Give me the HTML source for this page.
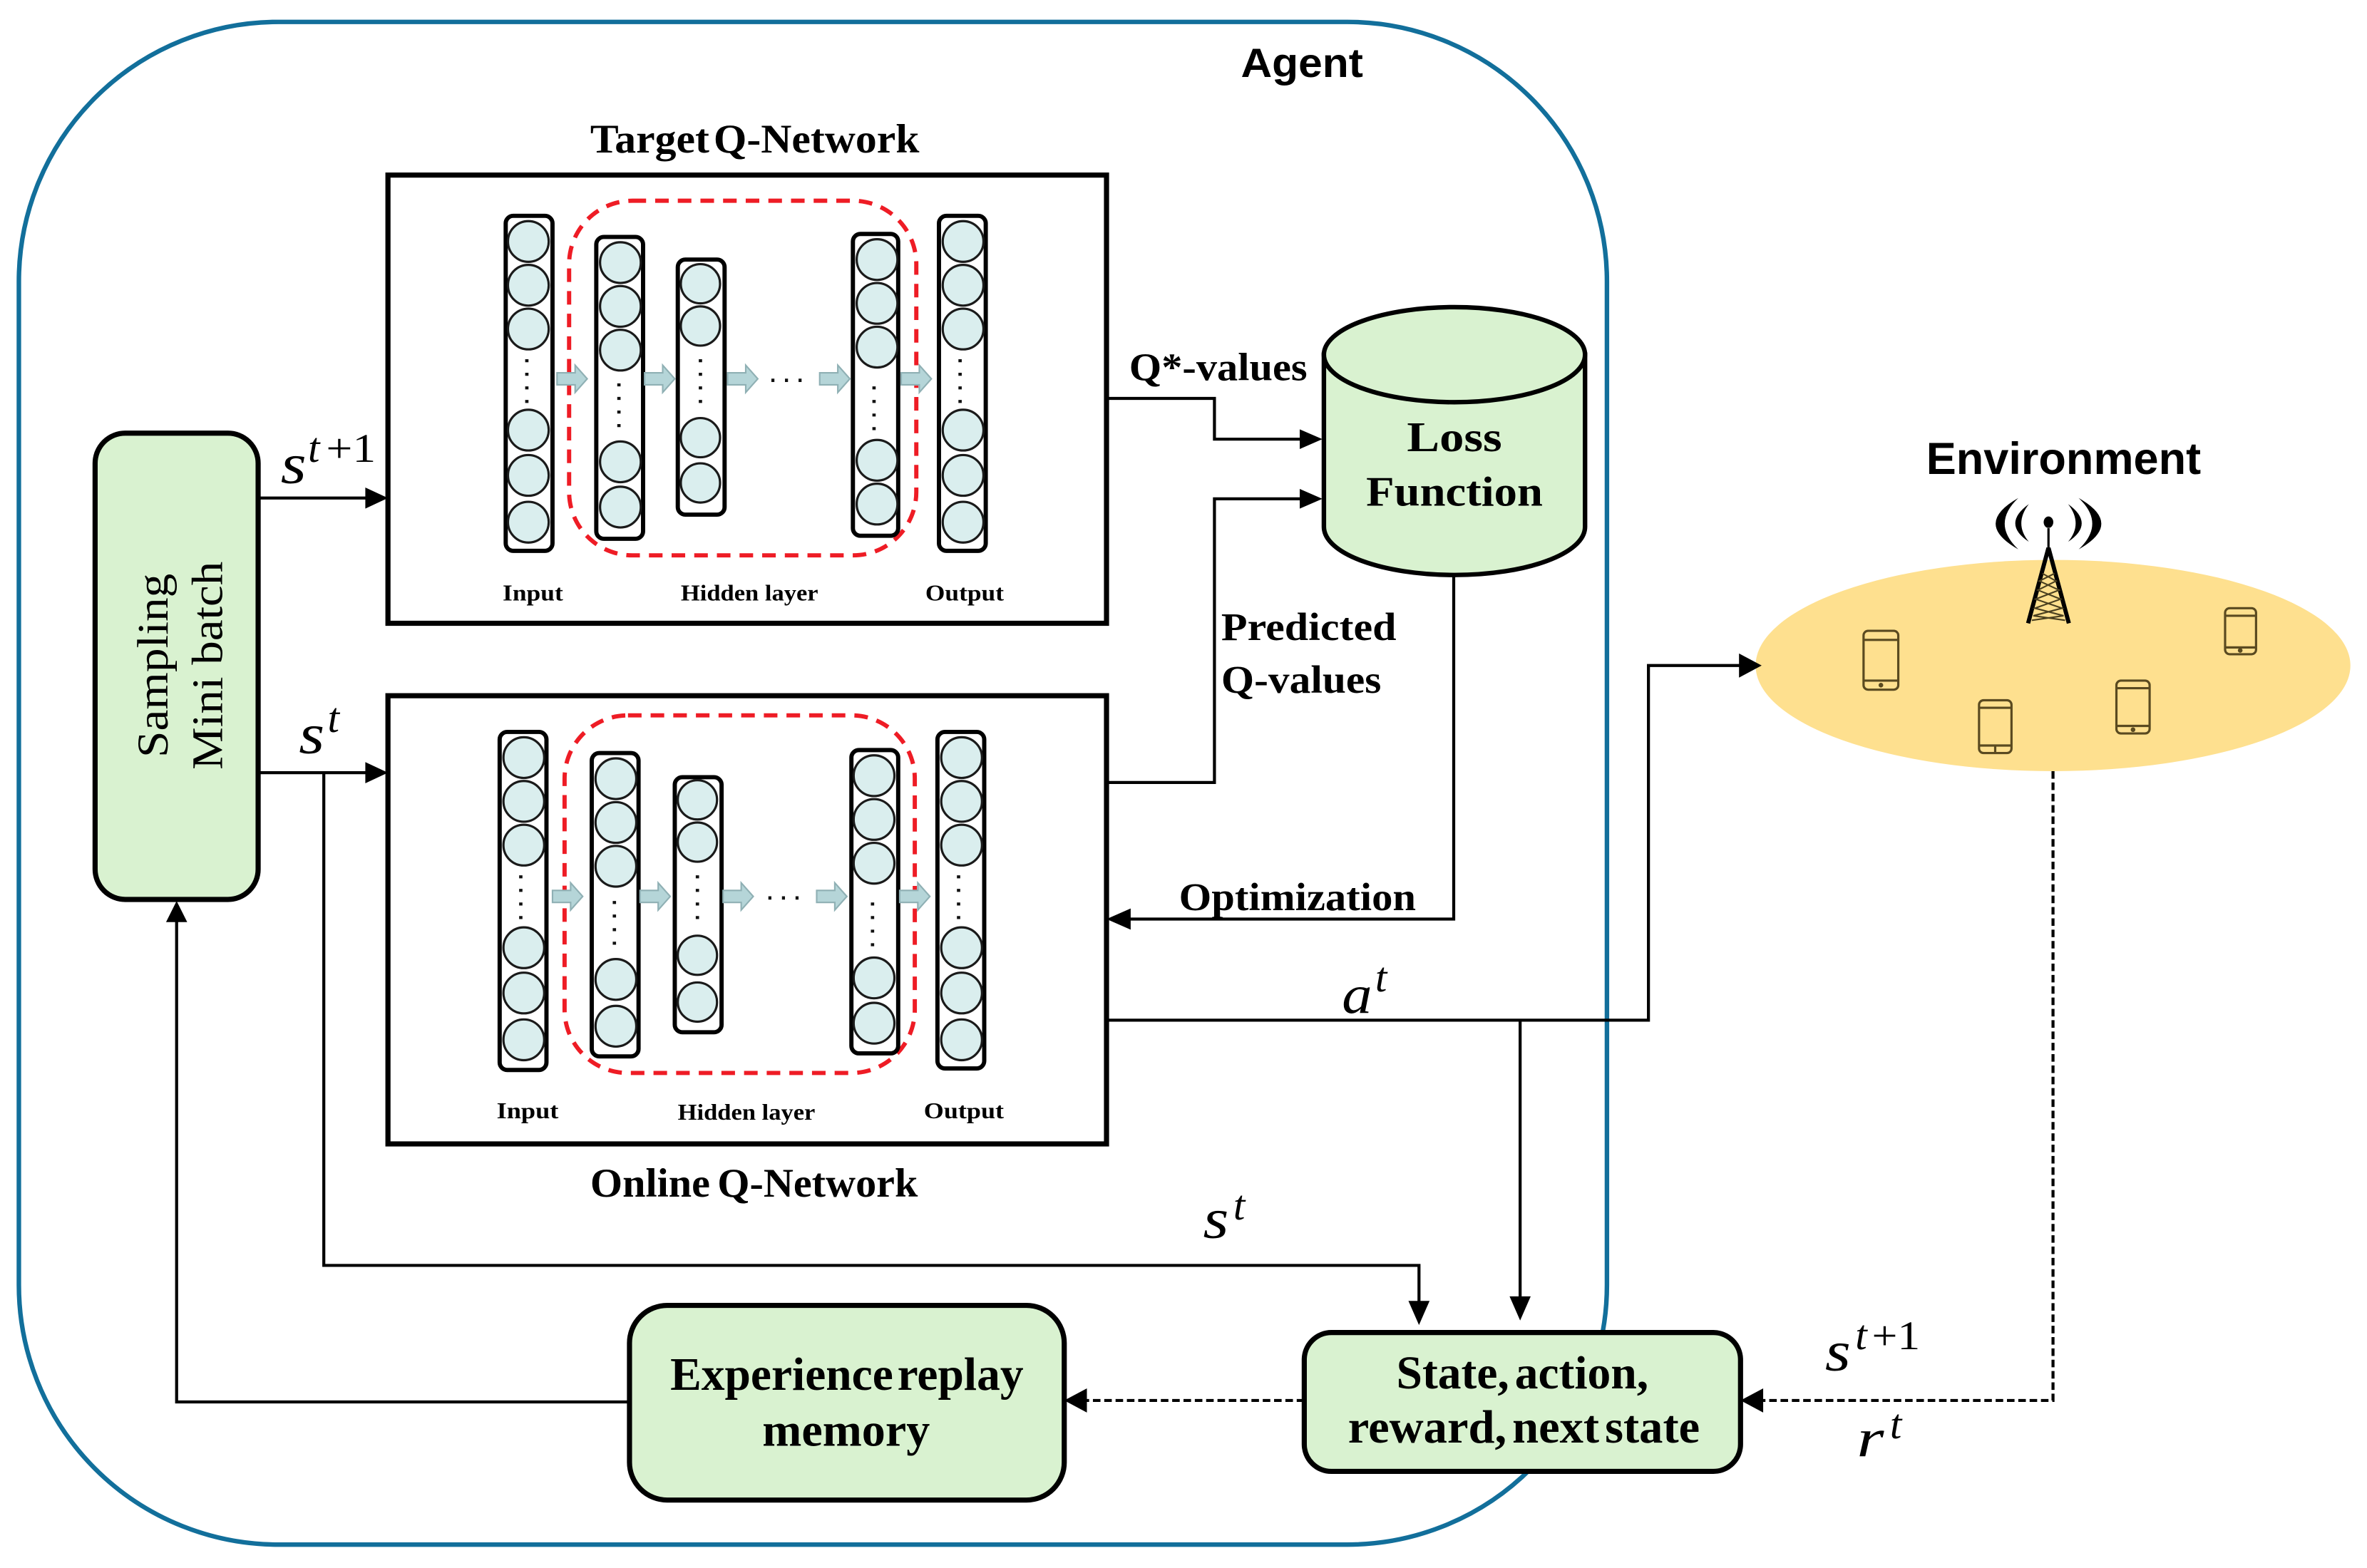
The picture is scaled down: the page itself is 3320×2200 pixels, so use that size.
<!DOCTYPE html>
<html>
<head>
<meta charset="utf-8">
<style>
html,body{margin:0;padding:0;background:#fff;}
svg{display:block;}
.b{font-family:"Liberation Serif",serif;font-weight:bold;fill:#000;}
.s{font-family:"Liberation Sans",sans-serif;font-weight:bold;fill:#000;}
.m{font-family:"Liberation Serif",serif;font-style:italic;fill:#000;}
.r{font-family:"Liberation Serif",serif;fill:#000;}
.bar{fill:#fff;stroke:#000;stroke-width:2.8;}
.c{fill:#daeeee;stroke:#1a1a1a;stroke-width:1.5;}
.d{fill:none;stroke:#111;stroke-width:2.2;stroke-dasharray:2 7;}
.red{fill:none;stroke:#ee1c25;stroke-width:2.8;stroke-dasharray:9 6;}
.ar{fill:#b5d5d8;stroke:#8fb0b4;stroke-width:1;}
.l{fill:none;stroke:#000;stroke-width:2;}
.ph{fill:none;stroke:#5a4a20;stroke-width:1.5;}
</style>
</head>
<body>
<svg width="3320" height="2200" viewBox="0 0 1568 1039" xmlns="http://www.w3.org/2000/svg">
<rect width="1568" height="1039" fill="#fff"/>

<!-- Agent -->
<rect x="12.500" y="14.500" width="1052" height="1009" rx="172" ry="172" fill="#fff" stroke="#126f9b" stroke-width="3"/>
<text class="s" x="822" y="51" font-size="27" textLength="81" lengthAdjust="spacingAndGlyphs">Agent</text>

<!-- Environment -->
<ellipse cx="1360" cy="441" rx="197" ry="70" fill="#fee08f"/>
<text class="s" x="1276" y="314" font-size="30" textLength="182" lengthAdjust="spacingAndGlyphs">Environment</text>

<!-- Tower -->
<g fill="none" stroke="#000">
  <path d="M1357 350 V366" stroke-width="1.500"/>
  <ellipse cx="1357" cy="346" rx="3.200" ry="3.800" fill="#000" stroke="none"/>
  <path d="M1357 363 L1343.500 413 M1357 363 L1370.500 413" stroke-width="2.800"/>
  <path d="M1353 380 L1362 385 L1350 391 L1365 397 L1348 403 L1367 408 L1346 411 M1361 380 L1351 385 L1364 391 L1348.500 397 L1366 403 L1347 408 L1368 411" stroke="#4a4020" stroke-width="1"/>
  <g fill="#000" stroke="none">
    <path d="M1337 330 Q1307 347 1337 364 Q1319 347 1337 330 Z"/>
    <path d="M1344 334 Q1326 347 1344 359 Q1334 347 1344 334 Z"/>
    <path d="M1377 330 Q1407 347 1377 364 Q1395 347 1377 330 Z"/>
    <path d="M1370 334 Q1388 347 1370 359 Q1380 347 1370 334 Z"/>
  </g>
</g>

<!-- Phones -->
<g class="ph">
  <rect x="1234.500" y="418" width="23" height="39" rx="3"/><path d="M1234.500 424 H1257.500 M1234.500 451 H1257.500"/><circle cx="1246" cy="454" r=".8"/>
  <rect x="1311" y="464" width="21.500" height="35" rx="3"/><path d="M1311 469 H1332.500 M1311 494 H1332.500 M1321.700 494 V499"/>
  <rect x="1402" y="451" width="22" height="35" rx="3"/><path d="M1402 456 H1424 M1402 481 H1424"/><circle cx="1413" cy="483.500" r=".8"/>
  <rect x="1474" y="403" width="20.500" height="30.500" rx="3"/><path d="M1474 408 H1494.500 M1474 429 H1494.500"/><circle cx="1484" cy="431" r=".8"/>
</g>

<!-- Connectors -->
<g class="l">
  <path d="M172 330 H245"/>
  <path d="M172 512 H245"/>
  <path d="M214.500 512 V838.500 H940 V866" />
  <path d="M734 264 H804.500 V291 H864"/>
  <path d="M734 518.500 H804.500 V330.500 H864"/>
  <path d="M963 381 V609 H746"/>
  <path d="M734 676 H1092 V441 H1154"/>
  <path d="M1007 676 V862"/>
  <path d="M417 929 H117 V609"/>
  <path d="M1360 511 V928 H1165" stroke-dasharray="5 2.500"/>
  <path d="M864 928 H718" stroke-dasharray="5 2.500"/>
</g>
<g fill="#000">
  <polygon points="257,330 242,323 242,337"/>
  <polygon points="257,512 242,505 242,519"/>
  <polygon points="940,878 933,862 947,862"/>
  <polygon points="876,291 861,284.500 861,297.500"/>
  <polygon points="876,330.500 861,324 861,337"/>
  <polygon points="733,609 749,602 749,616"/>
  <polygon points="1167,441 1152,433 1152,449"/>
  <polygon points="1007,875 1000,859 1014,859"/>
  <polygon points="117,597 110,611 124,611"/>
  <polygon points="1153,928 1168,920 1168,936"/>
  <polygon points="705,928 720,920 720,936"/>
</g>

<!-- Target box -->
<rect x="257" y="116" width="476" height="297" fill="#fff" stroke="#000" stroke-width="3.400"/>
<text class="b" x="391" y="101" font-size="27" word-spacing="-4" textLength="218" lengthAdjust="spacingAndGlyphs">Target Q-Network</text>
<rect class="red" x="377" y="133" width="230" height="235" rx="42"/>

<rect class="bar" x="335" y="143" width="31" height="222" rx="5"/>
<rect class="bar" x="395" y="157" width="31" height="200" rx="5"/>
<rect class="bar" x="449" y="172" width="31" height="169" rx="5"/>
<rect class="bar" x="565" y="155" width="30" height="200" rx="5"/>
<rect class="bar" x="622" y="143" width="31" height="222" rx="5"/>
<g class="c">
  <circle cx="350" cy="160" r="13.500"/><circle cx="350" cy="189" r="13.500"/><circle cx="350" cy="218" r="13.500"/><circle cx="350" cy="285" r="13.500"/><circle cx="350" cy="315" r="13.500"/><circle cx="350" cy="346" r="13.500"/>
  <circle cx="411" cy="174" r="13.500"/><circle cx="411" cy="203" r="13.500"/><circle cx="411" cy="232" r="13.500"/><circle cx="411" cy="306" r="13.500"/><circle cx="411" cy="336" r="13.500"/>
  <circle cx="464" cy="188" r="13"/><circle cx="464" cy="216" r="13"/><circle cx="464" cy="290" r="13"/><circle cx="464" cy="320" r="13"/>
  <circle cx="581" cy="172" r="13.500"/><circle cx="581" cy="201" r="13.500"/><circle cx="581" cy="230" r="13.500"/><circle cx="581" cy="305" r="13.500"/><circle cx="581" cy="334" r="13.500"/>
  <circle cx="638" cy="160" r="13.500"/><circle cx="638" cy="189" r="13.500"/><circle cx="638" cy="218" r="13.500"/><circle cx="638" cy="285" r="13.500"/><circle cx="638" cy="315" r="13.500"/><circle cx="638" cy="346" r="13.500"/>
</g>
<path class="d" d="M349 238 V270 M410 254 V290 M464 238 V272 M579 256 V292 M636 238 V270 M511 252 H534"/>
<g class="ar">
  <path d="M369 247 H381 V242 L389 251 L381 260 V255 H369 Z"/>
  <path d="M427 247 H439 V242 L447 251 L439 260 V255 H427 Z"/>
  <path d="M482 247 H494 V242 L502 251 L494 260 V255 H482 Z"/>
  <path d="M543 247 H555 V242 L563 251 L555 260 V255 H543 Z"/>
  <path d="M597 247 H609 V242 L617 251 L609 260 V255 H597 Z"/>
</g>
<text class="b" x="333" y="398" font-size="15" textLength="40" lengthAdjust="spacingAndGlyphs">Input</text>
<text class="b" x="451" y="398" font-size="15" textLength="91" lengthAdjust="spacingAndGlyphs">Hidden layer</text>
<text class="b" x="613" y="398" font-size="15" textLength="52" lengthAdjust="spacingAndGlyphs">Output</text>

<!-- Online box -->
<rect x="257" y="461" width="476" height="297" fill="#fff" stroke="#000" stroke-width="3.400"/>
<text class="b" x="391" y="793" font-size="27" word-spacing="-2" textLength="217" lengthAdjust="spacingAndGlyphs">Online Q-Network</text>
<rect class="red" x="374" y="474" width="232" height="237" rx="42"/>

<rect class="bar" x="331" y="485" width="31" height="224" rx="5"/>
<rect class="bar" x="392" y="499" width="31" height="201" rx="5"/>
<rect class="bar" x="447" y="515" width="31" height="169" rx="5"/>
<rect class="bar" x="564" y="497" width="31" height="201" rx="5"/>
<rect class="bar" x="621" y="485" width="31" height="223" rx="5"/>
<g class="c">
  <circle cx="347" cy="502" r="13.500"/><circle cx="347" cy="531" r="13.500"/><circle cx="347" cy="560" r="13.500"/><circle cx="347" cy="628" r="13.500"/><circle cx="347" cy="658" r="13.500"/><circle cx="347" cy="689" r="13.500"/>
  <circle cx="408" cy="516" r="13.500"/><circle cx="408" cy="545" r="13.500"/><circle cx="408" cy="574" r="13.500"/><circle cx="408" cy="649" r="13.500"/><circle cx="408" cy="680" r="13.500"/>
  <circle cx="462" cy="530" r="13"/><circle cx="462" cy="558" r="13"/><circle cx="462" cy="633" r="13"/><circle cx="462" cy="664" r="13"/>
  <circle cx="579" cy="514" r="13.500"/><circle cx="579" cy="543" r="13.500"/><circle cx="579" cy="572" r="13.500"/><circle cx="579" cy="648" r="13.500"/><circle cx="579" cy="678" r="13.500"/>
  <circle cx="637" cy="502" r="13.500"/><circle cx="637" cy="531" r="13.500"/><circle cx="637" cy="560" r="13.500"/><circle cx="637" cy="628" r="13.500"/><circle cx="637" cy="658" r="13.500"/><circle cx="637" cy="689" r="13.500"/>
</g>
<path class="d" d="M345 580 V612 M407 597 V633 M462 580 V614 M578 598 V634 M635 580 V612 M509 595 H532"/>
<g class="ar">
  <path d="M366 590 H378 V585 L386 594 L378 603 V598 H366 Z"/>
  <path d="M424 590 H436 V585 L444 594 L436 603 V598 H424 Z"/>
  <path d="M479 590 H491 V585 L499 594 L491 603 V598 H479 Z"/>
  <path d="M541 590 H553 V585 L561 594 L553 603 V598 H541 Z"/>
  <path d="M596 590 H608 V585 L616 594 L608 603 V598 H596 Z"/>
</g>
<text class="b" x="329" y="741" font-size="15" textLength="41" lengthAdjust="spacingAndGlyphs">Input</text>
<text class="b" x="449" y="742" font-size="15" textLength="91" lengthAdjust="spacingAndGlyphs">Hidden layer</text>
<text class="b" x="612" y="741" font-size="15" textLength="53" lengthAdjust="spacingAndGlyphs">Output</text>

<!-- Sampling -->
<rect x="63" y="287" width="108" height="309" rx="20" fill="#d9f2d0" stroke="#000" stroke-width="3.400"/>
<text class="r" font-size="29" transform="translate(111,502) rotate(-90)" textLength="122" lengthAdjust="spacingAndGlyphs">Sampling</text>
<text class="r" font-size="29" transform="translate(147,510) rotate(-90)" textLength="138" lengthAdjust="spacingAndGlyphs">Mini batch</text>

<!-- Loss -->
<path d="M877 235 V349 C877 367 916 381 963.500 381 C1011 381 1050 367 1050 349 V235 Z" fill="#d9f2d0" stroke="#000" stroke-width="3"/>
<ellipse cx="963.500" cy="235" rx="86.500" ry="31.500" fill="#d9f2d0" stroke="#000" stroke-width="3"/>
<text class="b" x="932" y="299" font-size="28" textLength="63" lengthAdjust="spacingAndGlyphs">Loss</text>
<text class="b" x="905" y="335" font-size="28" textLength="117" lengthAdjust="spacingAndGlyphs">Function</text>

<!-- Edge labels -->
<text class="b" x="748" y="252" font-size="26" textLength="118" lengthAdjust="spacingAndGlyphs">Q*-values</text>
<text class="b" x="809" y="424" font-size="26" textLength="116" lengthAdjust="spacingAndGlyphs">Predicted</text>
<text class="b" x="809" y="459" font-size="26" textLength="106" lengthAdjust="spacingAndGlyphs">Q-values</text>
<text class="b" x="781" y="603" font-size="26" textLength="157" lengthAdjust="spacingAndGlyphs">Optimization</text>

<!-- Experience -->
<rect x="417" y="865" width="288" height="129" rx="25" fill="#d9f2d0" stroke="#000" stroke-width="3.400"/>
<text class="b" x="444" y="921" font-size="31" word-spacing="-5" textLength="234" lengthAdjust="spacingAndGlyphs">Experience replay</text>
<text class="b" x="505" y="958" font-size="31" textLength="111" lengthAdjust="spacingAndGlyphs">memory</text>

<!-- State -->
<rect x="864" y="883" width="289" height="92" rx="18" fill="#d9f2d0" stroke="#000" stroke-width="3.400"/>
<text class="b" x="925" y="920" font-size="31" word-spacing="-4" textLength="167" lengthAdjust="spacingAndGlyphs">State, action,</text>
<text class="b" x="893" y="956" font-size="31" word-spacing="-4" textLength="233" lengthAdjust="spacingAndGlyphs">reward, next state</text>

<!-- Math labels -->
<text class="m" x="186" y="320" font-size="38" textLength="17" lengthAdjust="spacingAndGlyphs">s</text>
<text class="m" x="204" y="306" font-size="28">t</text><text class="r" x="216" y="306" font-size="27" textLength="33" lengthAdjust="spacingAndGlyphs">+1</text>

<text class="m" x="198" y="499" font-size="38" textLength="17" lengthAdjust="spacingAndGlyphs">s</text>
<text class="m" x="217" y="485" font-size="28">t</text>

<text class="m" x="889" y="671" font-size="36" textLength="20" lengthAdjust="spacingAndGlyphs">a</text>
<text class="m" x="911" y="657" font-size="28">t</text>

<text class="m" x="797" y="820" font-size="38" textLength="17" lengthAdjust="spacingAndGlyphs">s</text>
<text class="m" x="817" y="808" font-size="28">t</text>

<text class="m" x="1209" y="908" font-size="38" textLength="17" lengthAdjust="spacingAndGlyphs">s</text>
<text class="m" x="1229" y="894" font-size="28">t</text><text class="r" x="1240" y="894" font-size="27" textLength="32" lengthAdjust="spacingAndGlyphs">+1</text>

<text class="m" x="1230" y="965" font-size="36" textLength="18" lengthAdjust="spacingAndGlyphs">r</text>
<text class="m" x="1252" y="953" font-size="28">t</text>
</svg>
</body>
</html>
